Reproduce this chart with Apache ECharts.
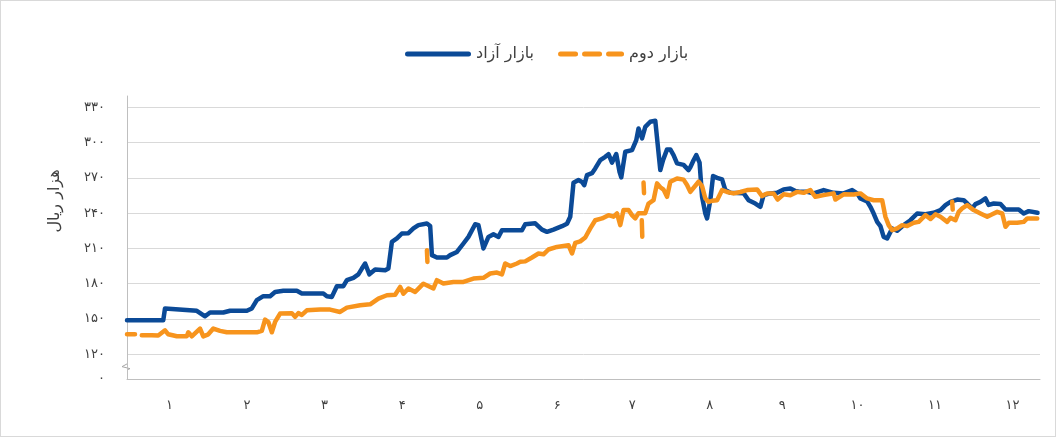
<!DOCTYPE html>
<html>
<head>
<meta charset="utf-8">
<script src="https://cdn.jsdelivr.net/npm/echarts@6/dist/echarts.min.js"></script>
<style>
	html, body { margin: 0; padding: 0; background: #fff; }
	#chart { width: 1056px; height: 437px; box-sizing: border-box; border: 1px solid #d9d9d9; }
</style>
</head>
<body>
<div id="chart"></div>
<script>
	// روزهای سال (محور افقی) و مقادیر بازار آزاد
	var freeDays = [0, 14.5, 15.2, 15.9, 27.9, 31.2, 33.2, 38.5, 41.2, 47.9, 49.9, 51.9, 54.5, 57.2, 59.2, 62.5, 67.9, 69.9, 78.5, 79.9,
		81.9, 83.9, 86.5, 87.9, 90.5, 92.5, 93.9, 95.2, 96.9, 99.2, 103.2, 104.5, 105.9, 107.9, 109.9, 112.5, 114.5, 116.5, 119.9, 121.2,
		121.9, 123.9, 127.9, 129.2, 131.9, 134.5, 136.5, 139.2, 140.5, 142.5, 144.5, 146.5, 148.5, 149.9, 153.2, 157.9, 159.2, 163.2, 165.9, 167.9,
		170.5, 173.9, 175.9, 177.2, 178.5, 180.5, 181.9, 182.8, 183.9, 185.9, 187.2, 189.2, 191.2, 192.5, 193.9, 195.6, 196.9, 197.6, 199.2, 201.9,
		203.6, 204.5, 205.9, 207.2, 209.2, 211.2, 211.9, 213.2, 214.3, 215.9, 217.2, 218.5, 219.9, 222.5, 224.5, 225.2, 226.5, 227.6, 228.9, 229.9,
		231.2, 231.9, 233.2, 234.3, 235.9, 237.9, 239.2, 241.2, 246.5, 248.5, 251.2, 253.2, 254.5, 257.2, 259.9, 262.5, 265.2, 267.2, 269.2, 271.9,
		274.5, 278.5, 282.5, 286.5, 289.9, 291.9, 293.2, 295.9, 297.2, 298.5, 299.9, 301.2, 302.5, 303.9, 304.5, 305.9, 307.9, 310.5, 313.2, 315.9,
		319.2, 322.5, 325.2, 327.2, 329.2, 331.9, 334.5, 335.9, 337.9, 339.2, 341.2, 343.2, 344.5, 346.5, 349.2, 351.2, 354.5, 356.5, 358.5, 360.5, 364];
	var freeValues = [149, 149, 159, 157.5, 157, 152.3, 155.5, 155.5, 157, 157, 159, 166, 169.4, 169.4, 173, 174, 174, 171.7, 171.7, 169.4,
		168.8, 177.9, 177.9, 183, 185, 188, 192.9, 197.2, 188, 192, 191.5, 193, 215.6, 218.5, 222.7, 223, 227, 229.8, 231.2, 229,
		204.3, 202.3, 202.3, 204.3, 207, 214.2, 219.8, 230.6, 229.8, 210, 219.8, 222, 219.8, 225.5, 225.5, 225.5, 230.6, 231.4, 226, 224.1,
		226, 228.9, 231, 236.9, 265.8, 268.1, 266.5, 263.8, 272.3, 274, 278, 285.1, 287.9, 290.2, 283, 290.2, 275.2, 270.4, 292.2, 293.6,
		302.1, 312, 303.6, 313.4, 317.7, 318.6, 317.7, 276.6, 285.1, 294.2, 294.2, 289.4, 282.3, 281, 276.6, 279, 285, 289.4, 283, 253.9,
		239.7, 235.5, 251, 271.5, 270, 268.7, 259.6, 257.3, 257, 251, 248.2, 245.4, 255.3, 256.8, 257.3, 260.2, 261, 258.8, 258.1, 258.1,
		256.8, 259.6, 257.3, 256.8, 259.6, 256.8, 252.5, 250, 245.4, 239.7, 232.6, 229, 219.8, 218.5, 219, 227, 225, 229.8, 234, 239.7,
		239, 240.3, 242.6, 246.8, 249.6, 251.6, 251, 248.2, 244, 247.7, 249.6, 252.5, 247, 248.2, 247.7, 243.1, 243.1, 243.1, 239.7, 241.7, 240.3];

	// بازار دوم (null = خط قطع می‌شود)
	var secondDays = [0, 3.2, 4.5, 5.9, 9.9, 10.5, 12.5, 15.2, 16.5, 19.9, 23.9, 24.5, 25.9, 29.2, 30.5, 32.5, 34.5, 37.2, 39.9, 51.9,
		53.9, 55.2, 56.5, 57.9, 59.2, 61.2, 65.9, 67.2, 68.5, 69.9, 71.9, 77.2, 81.2, 85.2, 87.9, 93.2, 97.2, 100.5, 103.9, 107.2,
		109.2, 110.5, 112.5, 115.2, 117.2, 118.5, 122.5, 123.9, 126.5, 130.5, 134.5, 138.5, 142.5, 145.2, 147.9, 149.9, 151.2, 153.2, 155.9, 157.2,
		159.2, 161.9, 164.5, 166.5, 168.5, 171.9, 176.5, 177.9, 179.2, 181.2, 183.2, 185.2, 187.2, 189.9, 192.5, 194.5, 195.9, 197.2, 198.5, 200.5,
		201.9, 203.2, 204.5, 207.2, 208.5, 210.5, 211.9, 213.2, 214.5, 215.9, 217.2, 219.9, 222.5, 223.9, 225.2, 228.5, 229.9, 231.2, 232.5, 233.9,
		235.9, 237.9, 239.9, 242.5, 245.2, 247.9, 251.9, 253.9, 255.9, 258.5, 260.1, 262.5, 265.2, 267.9, 270.5, 273.2, 275.2, 278.5, 282.5, 283.2,
		286.5, 290.5, 293.2, 295.9, 298.5, 301.9, 303.2, 304.5, 305.9, 307.9, 309.9, 311.9, 314.5, 316.5, 319.2, 321.2, 323.2, 325.2, 327.9, 329.2,
		331.2, 332.5, 333.9, 335.9, 338.5, 341.2, 343.9, 345.9, 347.9, 349.9, 351.2, 352.5, 355.9, 358.5, 359.9, 363.9];
	var secondValues = [137, 137, null, 136.2, 136.2, 135.3, 136, 140.4, 137, 135.3, 135.3, 138.7, 135.3, 141.9, 135.3, 137, 141.9, 139.9, 138.7, 138.7,
		139.9, 149.5, 147.5, 138.7, 147.5, 154.6, 155, 151.8, 155, 153.5, 157.4, 158, 158, 156, 159.7, 161.7, 162.5, 167.4, 170.2, 170.6,
		177.3, 171.5, 175.9, 173, 177.3, 180, 176, 183, 180.2, 181.5, 181.5, 184.4, 185, 188.7, 189.5, 188, 197.2, 195, 197.2, 198.6,
		199, 202.3, 205.7, 205, 209.1, 211.3, 212.8, 205.7, 214.7, 216, 219.3, 227, 234, 235.5, 238.3, 237, 239.7, 229.8, 242.6, 242.6,
		238.3, 235.5, 240, 240, 248.2, 251, 265.3, 262, 260, 253.9, 266.7, 269.5, 268.5, 264, 258.1, 266.7, 263, 252.5, 249.6, 250.5,
		251, 259.6, 258, 256.8, 258, 259.6, 260.2, 254.5, 256.8, 256.8, 251.6, 256, 255.3, 258.1, 257.3, 259.6, 253.9, 255.3, 256.8, 251.6,
		256, 255.8, 256.8, 252.5, 251, 251, 236.9, 229.8, 225.5, 227, 229.8, 229, 231.8, 232.6, 238.3, 235, 239, 236.9, 232.6, 236,
		234, 241.1, 244, 246.8, 242.6, 239.7, 236.9, 239, 241.1, 239.7, 228.4, 231.8, 231.8, 232.6, 235.5, 235.5];

	// تکه‌های جدا افتاده خط بازار دوم
	var secondPieceDays = [119.9, 120.1, 120.5, 205.8, 206, 206.2, 206.5, 206.7, 207, 329.9, 330.1];
	var secondPieceValues = [208.5, 198.5, null, 234, 220, null, 266, 257, null, 249.6, 243];

	var seriesNames = ['بازار آزاد', 'بازار دوم'];
	var monthDays = [17, 48, 79, 110, 141, 172, 202, 233, 262, 292, 323, 354];
	var monthLabels = ['۱', '۲', '۳', '۴', '۵', '۶', '۷', '۸', '۹', '۱۰', '۱۱', '۱۲'];
	var yTickValues = [99, 120, 150, 180, 210, 240, 270, 300, 330];
	var yTickLabels = ['۰', '۱۲۰', '۱۵۰', '۱۸۰', '۲۱۰', '۲۴۰', '۲۷۰', '۳۰۰', '۳۳۰'];

	function pairs(xs, ys) {
		return xs.map(function(x, i) {
			return [x, ys[i] === null ? '-' : ys[i]];
		});
	}

	var textColor = '#404040';
	var fontFamily = 'DejaVu Sans';
	var blue = '#0b4a97';
	var orange = '#f7941d';

	var chart = echarts.init(document.getElementById('chart'));
	var option = {
		animation: false,
		textStyle: { fontFamily: fontFamily },
		legend: {
			show: true,
			orient: 'horizontal',
			top: 40,
			left: 399,
			bottom: 'auto',
			itemWidth: 66,
			itemHeight: 5,
			itemGap: 24,
			textStyle: { fontSize: 16, color: textColor, fontFamily: fontFamily },
			data: [{
					name: seriesNames[0],
					icon: 'path://M2.5,0H63.5A2.5,2.5,0,0,1,63.5,5H2.5A2.5,2.5,0,0,1,2.5,0Z'
				},
				{
					name: seriesNames[1],
					icon: 'path://M2.5,0H17.5A2.5,2.5,0,0,1,17.5,5H2.5A2.5,2.5,0,0,1,2.5,0Z M26.5,0H41.5A2.5,2.5,0,0,1,41.5,5H26.5A2.5,2.5,0,0,1,26.5,0Z M50.5,0H63.5A2.5,2.5,0,0,1,63.5,5H50.5A2.5,2.5,0,0,1,50.5,0Z'
				}
			]
		},
		grid: {
			left: 126,
			right: 15,
			top: 95,
			bottom: 57
		},
		xAxis: {
			type: 'value',
			min: 0,
			max: 365,
			axisLine: { lineStyle: { color: '#bfbfbf', width: 1 } },
			axisTick: { show: false },
			splitLine: { show: false },
			axisLabel: {
				customValues: monthDays,
				margin: 20,
				fontSize: 13,
				color: textColor,
				formatter: function(v) {
					return monthLabels[monthDays.indexOf(v)];
				}
			}
		},
		yAxis: {
			type: 'value',
			min: 99,
			max: 339.6,
			axisLine: { show: true, lineStyle: { color: '#bfbfbf', width: 1 } },
			axisTick: { show: false, customValues: yTickValues },
			splitLine: { show: true, lineStyle: { color: '#d9d9d9', width: 1 } },
			axisLabel: {
				customValues: yTickValues,
				margin: 22,
				fontSize: 13,
				color: textColor,
				formatter: function(v) {
					return yTickLabels[yTickValues.indexOf(v)];
				}
			}
		},
		series: [{
				name: seriesNames[0],
				type: 'line',
				symbol: 'none',
				z: 3,
				data: pairs(freeDays, freeValues),
				lineStyle: { color: blue, width: 4.5, cap: 'round', join: 'round' },
				itemStyle: { color: blue }
			},
			{
				name: seriesNames[1],
				type: 'line',
				symbol: 'none',
				connectNulls: false,
				z: 4,
				data: pairs(secondDays, secondValues),
				lineStyle: { color: orange, width: 4.5, cap: 'round', join: 'round' },
				itemStyle: { color: orange }
			},
			{
				name: 'pieces',
				type: 'line',
				symbol: 'none',
				connectNulls: false,
				z: 4,
				data: pairs(secondPieceDays, secondPieceValues),
				lineStyle: { color: orange, width: 4.5, cap: 'round', join: 'round' },
				itemStyle: { color: orange }
			}
		]
	};
	chart.setOption(option);

	// عنوان محور عمودی و علامت شکست محور
	var bx = chart.convertToPixel({ xAxisIndex: 0 }, 0);
	var by = chart.convertToPixel({ yAxisIndex: 0 }, 109.5);
	chart.setOption({
		graphic: [{
				type: 'text',
				x: 54,
				y: 200,
				rotation: Math.PI / 2,
				style: {
					text: 'هزار ریال',
					fontSize: 16,
					fontFamily: fontFamily,
					fill: textColor,
					align: 'center',
					verticalAlign: 'middle'
				}
			},
			{
				type: 'rect',
				shape: { x: bx - 1.5, y: by - 5, width: 3, height: 10 },
				style: { fill: '#fff' }
			},
			{
				type: 'polyline',
				shape: { points: [[bx + 0.5, by - 5], [bx + 0.5, by - 3], [bx - 5, by], [bx + 3, by + 2], [bx + 0.5, by + 3], [bx + 0.5, by + 5]] },
				style: { stroke: '#a6a6a6', lineWidth: 1, fill: null }
			}
		]
	});
</script>
</body>
</html>
